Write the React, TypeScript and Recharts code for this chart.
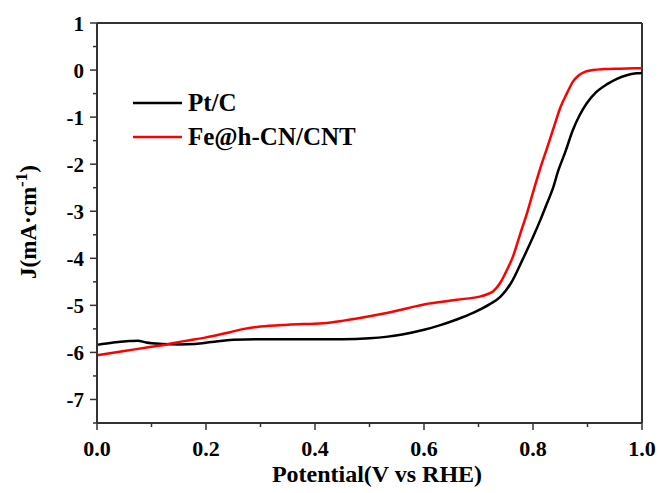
import React from "react";
import { LineChart, Line, XAxis, YAxis, ReferenceLine, Customized } from "recharts";

// Pt/C polarisation curve (V vs RHE, mA/cm2)
const ptcV = [0, 0.03, 0.06, 0.075, 0.09, 0.12, 0.15, 0.18, 0.21, 0.25, 0.3, 0.35, 0.4, 0.45, 0.5, 0.53, 0.56, 0.6, 0.63, 0.66, 0.69, 0.72, 0.74, 0.76, 0.78, 0.8, 0.813, 0.825, 0.837, 0.846, 0.859, 0.873, 0.886, 0.899, 0.915, 0.936, 0.955, 0.972, 0.99, 1.0];
const ptcJ = [-5.84, -5.79, -5.76, -5.75, -5.79, -5.82, -5.83, -5.82, -5.78, -5.73, -5.72, -5.72, -5.72, -5.72, -5.7, -5.67, -5.62, -5.52, -5.42, -5.3, -5.16, -4.98, -4.82, -4.52, -4.05, -3.55, -3.2, -2.85, -2.5, -2.15, -1.75, -1.28, -0.95, -0.7, -0.48, -0.3, -0.18, -0.11, -0.07, -0.06];

// Fe@h-CN/CNT
const feV = [0, 0.05, 0.1, 0.128, 0.16, 0.2, 0.244, 0.27, 0.3, 0.35, 0.415, 0.45, 0.477, 0.51, 0.54, 0.57, 0.6, 0.63, 0.66, 0.7, 0.715, 0.727, 0.74, 0.75, 0.763, 0.776, 0.789, 0.8, 0.813, 0.826, 0.84, 0.85, 0.862, 0.873, 0.883, 0.895, 0.91, 0.93, 0.96, 1.0];
const feJ = [-6.06, -5.97, -5.88, -5.83, -5.76, -5.68, -5.57, -5.5, -5.45, -5.41, -5.38, -5.33, -5.28, -5.21, -5.14, -5.06, -4.98, -4.93, -4.88, -4.82, -4.77, -4.7, -4.52, -4.3, -3.97, -3.5, -3.04, -2.6, -2.1, -1.65, -1.15, -0.8, -0.5, -0.25, -0.12, -0.04, 0.0, 0.02, 0.03, 0.04];

const xTicks = [0, 0.1, 0.2, 0.3, 0.4, 0.5, 0.6, 0.7, 0.8, 0.9, 1.0];
const yTicks = [-7.5, -7, -6.5, -6, -5.5, -5, -4.5, -4, -3.5, -3, -2.5, -2, -1.5, -1, -0.5, 0, 0.5, 1];

const ptcData = ptcV.map((v, i) => ({ v, j: ptcJ[i] }));
const feData = feV.map((v, i) => ({ v, j: feJ[i] }));

const FONT = '"Liberation Serif", "Times New Roman", serif';
const AXIS = "#333";

const XTick = (props: any) => {
  const { x, y, payload } = props;
  const major = Math.round(payload.value * 10) % 2 === 0;
  return (
    <g>
      <line x1={x} y1={y} x2={x} y2={y + (major ? 7 : 4)} stroke={AXIS} strokeWidth={1.5} />
      {major && (
        <text x={x} y={y + 33} textAnchor="middle" fontFamily={FONT} fontWeight="bold" fontSize={22} fill="#000">
          {payload.value.toFixed(1)}
        </text>
      )}
    </g>
  );
};

const YTick = (props: any) => {
  const { x, y, payload } = props;
  const major = Number.isInteger(payload.value);
  return (
    <g>
      <line x1={x} y1={y} x2={x - (major ? 7 : 4)} y2={y} stroke={AXIS} strokeWidth={1.5} />
      {major && (
        <text x={x - 13} y={y + 8} textAnchor="end" fontFamily={FONT} fontWeight="bold" fontSize={21} fill="#000">
          {payload.value}
        </text>
      )}
    </g>
  );
};

const Extras = () => (
  <g fontFamily={FONT} fontWeight="bold" fill="#000">
    <line x1={133} y1={103} x2={182} y2={103} stroke="#000" strokeWidth={2.5} />
    <text x={188} y={111} fontSize={25}>Pt/C</text>
    <line x1={133} y1={137} x2={182} y2={137} stroke="#ff0000" strokeWidth={2.5} />
    <text x={188} y={145} fontSize={25}>Fe@h-CN/CNT</text>
    <text x={377} y={482} textAnchor="middle" fontSize={24}>Potential(V vs RHE)</text>
    <text transform="translate(36,222) rotate(-90)" textAnchor="middle" fontSize={23}>
      J(mA·cm<tspan dy={-9} fontSize={17}>-1</tspan><tspan dy={9}>)</tspan>
    </text>
  </g>
);

export default function App() {
  return (
    <div style={{ position: "absolute", left: 0, top: 0, width: 661, height: 493, background: "#fff" }}>
      <LineChart width={661} height={493} margin={{ top: 23, right: 19, bottom: 30, left: 37 }}>
        <XAxis
          type="number"
          dataKey="v"
          domain={[0, 1]}
          ticks={xTicks}
          interval={0}
          height={40}
          tickSize={0}
          tickMargin={0}
          tickLine={false}
          tick={XTick}
          axisLine={{ stroke: AXIS, strokeWidth: 2 }}
          allowDuplicatedCategory={false}
        />
        <YAxis
          type="number"
          dataKey="j"
          domain={[-7.5, 1]}
          ticks={yTicks}
          interval={0}
          width={60}
          tickSize={0}
          tickMargin={0}
          tickLine={false}
          tick={YTick}
          axisLine={{ stroke: AXIS, strokeWidth: 2 }}
        />
        <ReferenceLine y={1} stroke={AXIS} strokeWidth={2} />
        <ReferenceLine x={1} stroke={AXIS} strokeWidth={2} />
        <Line data={ptcData} dataKey="j" type="monotone" stroke="#000" strokeWidth={2.5} dot={false} isAnimationActive={false} />
        <Line data={feData} dataKey="j" type="monotone" stroke="#ff0000" strokeWidth={2.5} dot={false} isAnimationActive={false} />
        <Customized component={Extras} />
      </LineChart>
    </div>
  );
}
